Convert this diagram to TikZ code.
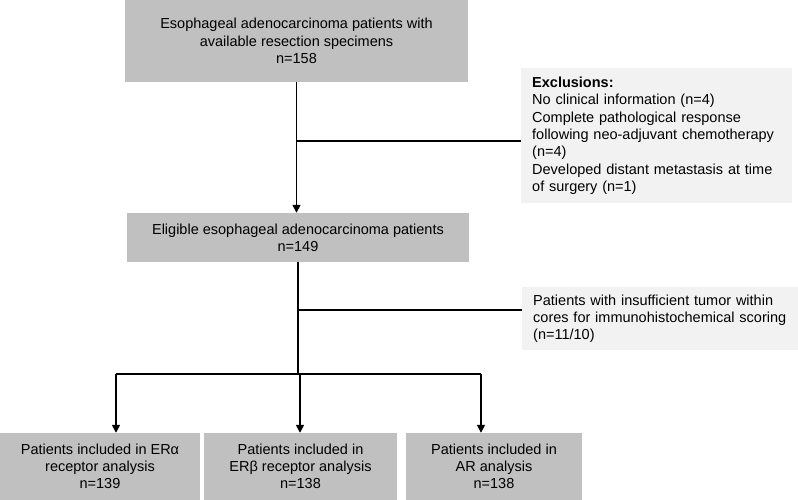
\documentclass[tikz,border=0pt]{standalone}
\usepackage{fontspec}
\setmainfont{Liberation Sans}
\usetikzlibrary{arrows.meta,calc}
\definecolor{boxgray}{RGB}{192,192,192}
\definecolor{exgray}{RGB}{242,242,242}
\tikzset{
  mainbox/.style={fill=boxgray, inner sep=0pt, align=center,
    font=\fontsize{14.5}{17.3}\selectfont},
  exbox/.style={fill=exgray, inner ysep=0pt, inner xsep=11pt, align=left,
    font=\fontsize{14.5}{17.3}\selectfont, anchor=north west},
  conn/.style={line width=1.6pt, black},
  arr/.style={conn, -{Triangle[length=8pt,width=8pt]}}
}
\begin{document}
\begin{tikzpicture}[x=1pt,y=-1pt]
\useasboundingbox (0,0) rectangle (798,500);
\node[mainbox, minimum width=343pt, minimum height=82pt] (top) at (296.5,41)
  {Esophageal adenocarcinoma patients with\\available resection specimens\\n=158};
\node[mainbox, minimum width=342pt, minimum height=49pt] (mid) at (298,237.5)
  {Eligible esophageal adenocarcinoma patients\\n=149};
\node[exbox, text width=249pt, minimum height=135pt] (ex1) at (521,68)
  {\textbf{Exclusions:}\\No clinical information (n=4)\\Complete pathological response\\following neo-adjuvant chemotherapy\\(n=4)\\Developed distant metastasis at time\\of surgery (n=1)};
\node[exbox, text width=254pt, minimum height=63pt] (ex2) at (522,287)
  {Patients with insufficient tumor within\\cores for immunohistochemical scoring\\(n=11/10)};
\node[mainbox, minimum width=200pt, minimum height=67pt] (ba) at (100,466.5)
  {Patients included in ERα\\receptor analysis\\n=139};
\node[mainbox, minimum width=193pt, minimum height=67pt] (bb) at (300.5,466.5)
  {Patients included in\\ERβ receptor analysis\\n=138};
\node[mainbox, minimum width=176pt, minimum height=67pt] (bc) at (494,466.5)
  {Patients included in\\AR analysis\\n=138};
\coordinate (j1) at (296.5,141);
\coordinate (j2) at (298,310);
\coordinate (sp) at (298,374);
\coordinate (spl) at (116,374);
\coordinate (spm) at (300,374);
\coordinate (spr) at (481,374);
\draw[arr] (top.south) -- (top.south |- mid.north);
\draw[conn] (j1) -- (j1 -| ex1.west);
\draw[conn] (mid.south) -- (sp);
\draw[conn] (j2) -- (j2 -| ex2.west);
\draw[conn] (spl) -- (spr);
\draw[arr] (spl) -- (spl |- ba.north);
\draw[arr] (spm) -- (spm |- bb.north);
\draw[arr] (spr) -- (spr |- bc.north);
\end{tikzpicture}
\end{document}
